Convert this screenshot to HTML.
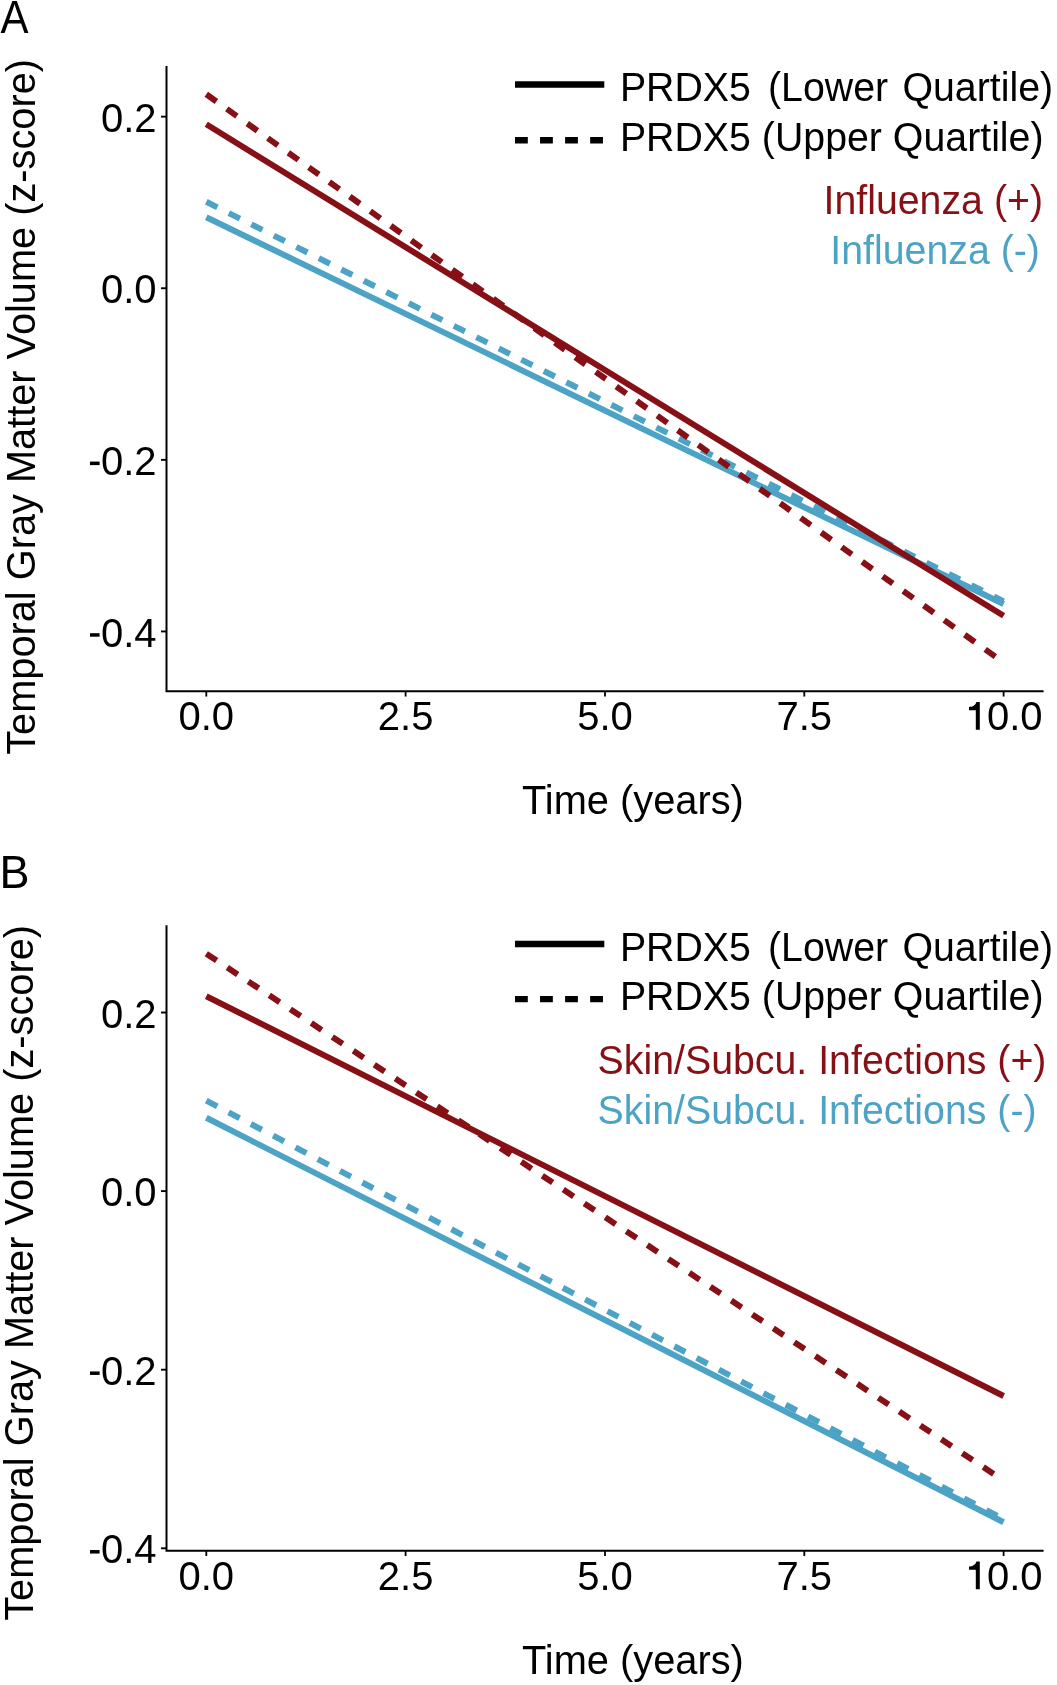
<!DOCTYPE html>
<html><head><meta charset="utf-8"><style>
html,body{margin:0;padding:0;background:#fff;}
svg{display:block;will-change:transform;}
text{font-family:"Liberation Sans",sans-serif;}
</style></head><body>
<svg width="1057" height="1685" viewBox="0 0 1057 1685">
<rect width="1057" height="1685" fill="#fff"/>

<text transform="translate(0.5,32.5) scale(1,1.09)" font-size="42">A</text>
<path d="M166.5,66.1 V691.35 H1043.6" fill="none" stroke="#000" stroke-width="2"/>
<line x1="161.0" y1="116.65" x2="166" y2="116.65" stroke="#000" stroke-width="1.9"/>
<text x="156.5" y="131.75" font-size="40" text-anchor="end">0.2</text>
<line x1="161.0" y1="288.25" x2="166" y2="288.25" stroke="#000" stroke-width="1.9"/>
<text x="156.5" y="303.35" font-size="40" text-anchor="end">0.0</text>
<line x1="161.0" y1="459.85" x2="166" y2="459.85" stroke="#000" stroke-width="1.9"/>
<rect x="90.0" y="461.60" width="9.6" height="3.5" fill="#000"/>
<text x="156.5" y="474.95" font-size="40" text-anchor="end">0.2</text>
<line x1="161.0" y1="631.45" x2="166" y2="631.45" stroke="#000" stroke-width="1.9"/>
<rect x="90.0" y="633.20" width="9.6" height="3.5" fill="#000"/>
<text x="156.5" y="646.55" font-size="40" text-anchor="end">0.4</text>
<line x1="206.3" y1="691.35" x2="206.3" y2="696.55" stroke="#000" stroke-width="1.8"/>
<text x="206.3" y="729.9" font-size="40" text-anchor="middle">0.0</text>
<line x1="405.6" y1="691.35" x2="405.6" y2="696.55" stroke="#000" stroke-width="1.8"/>
<text x="405.6" y="729.9" font-size="40" text-anchor="middle">2.5</text>
<line x1="605.0" y1="691.35" x2="605.0" y2="696.55" stroke="#000" stroke-width="1.8"/>
<text x="605.0" y="729.9" font-size="40" text-anchor="middle">5.0</text>
<line x1="804.3" y1="691.35" x2="804.3" y2="696.55" stroke="#000" stroke-width="1.8"/>
<text x="804.3" y="729.9" font-size="40" text-anchor="middle">7.5</text>
<line x1="1003.6" y1="691.35" x2="1003.6" y2="696.55" stroke="#000" stroke-width="1.8"/>
<path d="M979.80,702.00 L979.80,729.65 L975.80,729.65 L975.80,710.20 L969.00,710.20 L969.00,707.00 C972.60,706.80 975.40,705.60 976.40,702.00 Z" fill="#000"/>
<text x="986.92" y="729.9" font-size="40">0.0</text>
<text x="632.9" y="814.4" font-size="39.8" text-anchor="middle">Time (years)</text>
<text transform="translate(34.7,406.9) rotate(-90)" x="0" y="0" font-size="39.75" text-anchor="middle">Temporal Gray Matter Volume (z-score)</text>
<line x1="206.3" y1="217.2" x2="1003.6" y2="604.0" stroke="#4da3c6" stroke-width="6.0"/>
<line x1="206.3" y1="201.8" x2="1003.6" y2="601.4" stroke="#4da3c6" stroke-width="6.0" stroke-dasharray="12.4 12.77"/>
<line x1="206.3" y1="124.3" x2="1003.6" y2="615.8" stroke="#861015" stroke-width="6.0"/>
<line x1="206.3" y1="94.3" x2="1003.6" y2="662.5" stroke="#861015" stroke-width="6.0" stroke-dasharray="12.4 12.77"/>
<line x1="515.0" y1="84.45" x2="604.3" y2="84.45" stroke="#000" stroke-width="6.4"/>
<line x1="515.0" y1="140.3" x2="604.3" y2="140.3" stroke="#000" stroke-width="6.4" stroke-dasharray="12.8 12.25"/>
<text transform="translate(619.9,101.3) scale(1,1.045)" font-size="39.3" fill="#000">PRDX5</text>
<text transform="translate(768,101.3) scale(1,1.045)" font-size="39.3" fill="#000">(Lower</text>
<text transform="translate(902.4,101.3) scale(1,1.045)" font-size="39.3" fill="#000">Quartile)</text>
<text transform="translate(619.9,151.0) scale(1,1.045)" font-size="39.3" fill="#000">PRDX5 (Upper Quartile)</text>
<text transform="translate(823.5,213.6) scale(1,1.045)" font-size="39.3" fill="#861015">Influenza (+)</text>
<text transform="translate(830.3,263.6) scale(1,1.045)" font-size="39.3" fill="#4da3c6">Influenza (-)</text>
<text transform="translate(-0.4,887.8) scale(1,1.014)" font-size="45">B</text>
<path d="M166.5,925.2 V1550.85 H1043.6" fill="none" stroke="#000" stroke-width="2"/>
<line x1="161.0" y1="1012.5" x2="166" y2="1012.5" stroke="#000" stroke-width="1.9"/>
<text x="156.5" y="1027.60" font-size="40" text-anchor="end">0.2</text>
<line x1="161.0" y1="1191.1" x2="166" y2="1191.1" stroke="#000" stroke-width="1.9"/>
<text x="156.5" y="1206.20" font-size="40" text-anchor="end">0.0</text>
<line x1="161.0" y1="1369.7" x2="166" y2="1369.7" stroke="#000" stroke-width="1.9"/>
<rect x="90.0" y="1371.45" width="9.6" height="3.5" fill="#000"/>
<text x="156.5" y="1384.80" font-size="40" text-anchor="end">0.2</text>
<line x1="161.0" y1="1548.3" x2="166" y2="1548.3" stroke="#000" stroke-width="1.9"/>
<rect x="90.0" y="1550.05" width="9.6" height="3.5" fill="#000"/>
<text x="156.5" y="1563.40" font-size="40" text-anchor="end">0.4</text>
<line x1="206.3" y1="1550.85" x2="206.3" y2="1556.05" stroke="#000" stroke-width="1.8"/>
<text x="206.3" y="1589.5" font-size="40" text-anchor="middle">0.0</text>
<line x1="405.6" y1="1550.85" x2="405.6" y2="1556.05" stroke="#000" stroke-width="1.8"/>
<text x="405.6" y="1589.5" font-size="40" text-anchor="middle">2.5</text>
<line x1="605.0" y1="1550.85" x2="605.0" y2="1556.05" stroke="#000" stroke-width="1.8"/>
<text x="605.0" y="1589.5" font-size="40" text-anchor="middle">5.0</text>
<line x1="804.3" y1="1550.85" x2="804.3" y2="1556.05" stroke="#000" stroke-width="1.8"/>
<text x="804.3" y="1589.5" font-size="40" text-anchor="middle">7.5</text>
<line x1="1003.6" y1="1550.85" x2="1003.6" y2="1556.05" stroke="#000" stroke-width="1.8"/>
<path d="M979.80,1561.60 L979.80,1589.25 L975.80,1589.25 L975.80,1569.80 L969.00,1569.80 L969.00,1566.60 C972.60,1566.40 975.40,1565.20 976.40,1561.60 Z" fill="#000"/>
<text x="986.92" y="1589.5" font-size="40">0.0</text>
<text x="632.9" y="1674.4" font-size="39.8" text-anchor="middle">Time (years)</text>
<text transform="translate(32.6,1272.9) rotate(-90)" x="0" y="0" font-size="39.75" text-anchor="middle">Temporal Gray Matter Volume (z-score)</text>
<line x1="206.3" y1="1117.8" x2="1003.6" y2="1522.2" stroke="#4da3c6" stroke-width="6.0"/>
<line x1="206.3" y1="1100.6" x2="1003.6" y2="1519.1" stroke="#4da3c6" stroke-width="6.0" stroke-dasharray="12.4 12.77"/>
<line x1="206.3" y1="996.2" x2="1003.6" y2="1396.0" stroke="#861015" stroke-width="6.0"/>
<line x1="206.3" y1="953.7" x2="1003.6" y2="1480.5" stroke="#861015" stroke-width="6.0" stroke-dasharray="12.4 12.77"/>
<line x1="515.0" y1="944.0" x2="604.3" y2="944.0" stroke="#000" stroke-width="6.4"/>
<line x1="515.0" y1="999.1" x2="604.3" y2="999.1" stroke="#000" stroke-width="6.4" stroke-dasharray="12.8 12.25"/>
<text transform="translate(619.9,960.8) scale(1,1.045)" font-size="39.3" fill="#000">PRDX5</text>
<text transform="translate(768,960.8) scale(1,1.045)" font-size="39.3" fill="#000">(Lower</text>
<text transform="translate(902.4,960.8) scale(1,1.045)" font-size="39.3" fill="#000">Quartile)</text>
<text transform="translate(619.9,1010.3) scale(1,1.045)" font-size="39.3" fill="#000">PRDX5 (Upper Quartile)</text>
<text transform="translate(597.6,1074.4) scale(1,1.045)" font-size="39.3" fill="#861015">Skin/Subcu. Infections (+)</text>
<text transform="translate(597.6,1124.4) scale(1,1.045)" font-size="39.3" fill="#4da3c6">Skin/Subcu. Infections (-)</text>
</svg></body></html>
